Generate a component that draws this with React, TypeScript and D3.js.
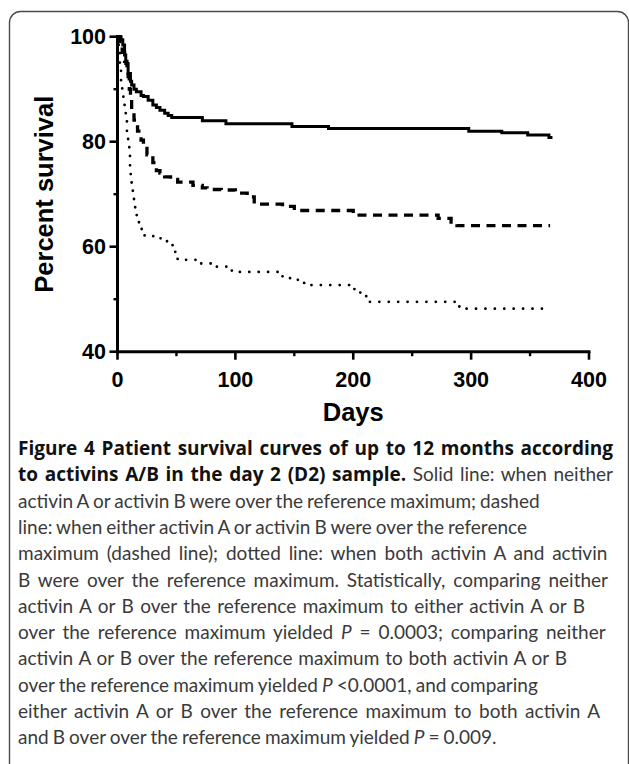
import { useEffect, useRef, useState } from "react"
import * as d3 from "d3"

// survival curves: [day, percent]
const neitherCurve: [number, number][] = [
  [0, 100], [3, 99.4], [4.5, 98.4], [6, 96.5], [7, 94.9], [9, 93], [11, 91.5], [12, 90.8],
  [14, 90], [16, 89.5], [20, 88.8], [22, 88.6], [26, 87.9], [30, 87.0], [33, 86.5], [36, 86.0],
  [40, 85.4], [43, 85], [46, 84.6], [72, 84.0], [92, 83.4], [148, 82.9], [179, 82.5],
  [298, 82.0], [326, 81.7], [348, 81.3], [366, 80.8], [369, 80.8],
]

const eitherCurve: [number, number][] = [
  [0, 100], [2, 98], [4, 97], [6, 95.3], [8, 93.5], [9, 92.4], [10, 90], [11, 88], [12, 86],
  [14, 84.1], [17, 82], [20, 80.3], [22, 79.4], [25, 77.5], [30, 76], [33, 74.5], [36, 74],
  [40, 73.3], [45, 72.8], [51, 72.3], [64, 71.7], [72, 71.2], [76, 70.9], [88, 70.8],
  [100, 70.2], [110, 69.5], [116, 68.1], [140, 67.7], [150, 66.9], [200, 66.0], [272, 65.4],
  [283, 64.7], [288, 64.0], [367, 64.0],
]

const bothCurve: [number, number][] = [
  [0, 100], [1, 97], [2, 94], [3, 91.7], [4, 89.8], [5, 88], [6, 86], [7, 84], [8, 82], [9, 80],
  [10, 77.5], [10.6, 75.5], [11.2, 73.7], [12, 72.1], [13, 70.5], [14, 68.9], [15, 67.3],
  [16.3, 65.7], [18.2, 64.5], [20.5, 63.2], [23, 62.0], [34, 61.6], [38, 61.3], [42, 61.0],
  [46, 60.3], [47.5, 59.7], [49, 58.5], [51, 57.5], [71, 56.8], [79, 56.2], [97, 55.2],
  [140, 54.0], [147, 53.7], [153, 53.1], [159, 52.7], [197, 52.2], [201, 51.7], [206, 51.0],
  [211, 50.5], [214, 49.5], [290, 48.2], [363, 48.2],
]

const xMajorTicks = [0, 100, 200, 300, 400]
const xMinorTicks = [50, 150, 250, 350]
const yMajorTicks = [40, 60, 80, 100]
const yMinorTicks = [50, 70, 90]

const xTitle = "Days"
const yTitle = "Percent survival"

type Seg = { t: string; b?: boolean; i?: boolean }
const captionLines: Seg[][] = [
  [{ t: "Figure 4 Patient survival curves of up to 12 months according", b: true }],
  [{ t: "to activins A/B in the day 2 (D2) sample.", b: true }, { t: " Solid line: when neither" }],
  [{ t: "activin A or activin B were over the reference maximum; dashed" }],
  [{ t: "line: when either activin A or activin B were over the reference" }],
  [{ t: "maximum (dashed line); dotted line: when both activin A and activin" }],
  [{ t: "B were over the reference maximum. Statistically, comparing neither" }],
  [{ t: "activin A or B over the reference maximum to either activin A or B" }],
  [{ t: "over the reference maximum yielded " }, { t: "P", i: true }, { t: " = 0.0003; comparing neither" }],
  [{ t: "activin A or B over the reference maximum to both activin A or B" }],
  [{ t: "over the reference maximum yielded " }, { t: "P", i: true }, { t: " <0.0001, and comparing" }],
  [{ t: "either activin A or B over the reference maximum to both activin A" }],
  [{ t: "and B over over the reference maximum yielded " }, { t: "P", i: true }, { t: " = 0.009." }],
]
// right end of each caption line in the figure
const captionLineEnds = [613, 613, 515, 490, 613, 613, 585, 613, 567, 530, 600, 473]

const W = 629
const H = 764
const tickFont = "'Liberation Sans', Arial, sans-serif"
const captionFont = "Lato, 'Open Sans', sans-serif"
const boldFont = "'Open Sans', Lato, sans-serif"

export default function App() {
  const textRefs = useRef<(SVGTextElement | null)[]>([])
  const [wordSpacing, setWordSpacing] = useState<number[] | null>(null)

  useEffect(() => {
    document.body.style.margin = "0"
    // nudge each caption line toward its width in the figure via its spaces (kept small)
    document.fonts.ready.then(() => {
      const ws = captionLines.map((segs, i) => {
        const el = textRefs.current[i]
        if (!el) return 0
        const natural = el.getComputedTextLength()
        const spaces = segs.map((s) => s.t).join("").split(" ").length - 1
        const v = spaces > 0 ? (captionLineEnds[i] - 18 - natural) / spaces : 0
        return Math.max(-0.8, Math.min(3, v))
      })
      setWordSpacing(ws)
    })
  }, [])

  const x = d3.scaleLinear().domain([0, 400]).range([117.5, 589])
  const y = d3.scaleLinear().domain([40, 100]).range([351.7, 36.7])

  const line = d3
    .line<[number, number]>()
    .x((d) => x(d[0]))
    .y((d) => y(d[1]))
    .curve(d3.curveStepAfter)

  const x0 = x.range()[0]
  const y0 = y.range()[0]
  const capX = 18

  return (
    <svg width={W} height={H} style={{ position: "absolute", left: 0, top: 0, background: "#fff" }}>
      {/* frame round the figure */}
      <rect x={9.5} y={11.5} width={619} height={790} rx={11} fill="none" stroke="#4a4a4a" strokeWidth={1.4} />

      {/* curves */}
      <path d={line(neitherCurve) ?? ""} fill="none" stroke="#000" strokeWidth={3} />
      <path d={line(eitherCurve) ?? ""} fill="none" stroke="#000" strokeWidth={3.3} strokeDasharray="9,6.5" />
      <path
        d={line(bothCurve) ?? ""}
        fill="none"
        stroke="#000"
        strokeWidth={2.8}
        strokeLinecap="round"
        strokeDasharray="0.01,9.4"
      />

      {/* axes */}
      <line x1={x0} x2={x0} y1={y.range()[1]} y2={y0} stroke="#000" strokeWidth={3} strokeLinecap="square" />
      <line x1={x0} x2={x.range()[1]} y1={y0} y2={y0} stroke="#000" strokeWidth={3} strokeLinecap="square" />
      {yMajorTicks.map((d) => (
        <line key={"ym" + d} x1={x0 - 8} x2={x0} y1={y(d)} y2={y(d)} stroke="#000" strokeWidth={2.6} />
      ))}
      {yMinorTicks.map((d) => (
        <line key={"yn" + d} x1={x0 - 4} x2={x0} y1={y(d)} y2={y(d)} stroke="#000" strokeWidth={2.4} />
      ))}
      {xMajorTicks.map((d) => (
        <line key={"xm" + d} x1={x(d)} x2={x(d)} y1={y0} y2={y0 + 8} stroke="#000" strokeWidth={2.6} />
      ))}
      {xMinorTicks.map((d) => (
        <line key={"xn" + d} x1={x(d)} x2={x(d)} y1={y0} y2={y0 + 4.5} stroke="#000" strokeWidth={2.4} />
      ))}
      {yMajorTicks.map((d) => (
        <text
          key={"yl" + d}
          x={106}
          y={y(d)}
          dy="0.36em"
          textAnchor="end"
          fontFamily={tickFont}
          fontWeight="bold"
          fontSize={21.5}
        >
          {d}
        </text>
      ))}
      {xMajorTicks.map((d) => (
        <text
          key={"xl" + d}
          x={x(d)}
          y={387}
          textAnchor="middle"
          fontFamily={tickFont}
          fontWeight="bold"
          fontSize={21.5}
        >
          {d}
        </text>
      ))}
      <text
        x={(x.range()[0] + x.range()[1]) / 2}
        y={421}
        textAnchor="middle"
        fontFamily={tickFont}
        fontWeight="bold"
        fontSize={25.5}
      >
        {xTitle}
      </text>
      <text
        transform={`translate(53, ${(y.range()[0] + y.range()[1]) / 2}) rotate(-90)`}
        textAnchor="middle"
        fontFamily={tickFont}
        fontWeight="bold"
        fontSize={25.5}
      >
        {yTitle}
      </text>

      {/* caption */}
      {captionLines.map((segs, i) => (
        <text
          key={i}
          ref={(el) => {
            textRefs.current[i] = el
          }}
          x={capX}
          y={455 + i * 26.3}
          fontFamily={captionFont}
          fontSize={19}
          fill="#3a3a3a"
          style={{ wordSpacing: wordSpacing ? `${wordSpacing[i]}px` : "0px" }}
        >
          {segs.map((s, j) => (
            <tspan
              key={j}
              fontFamily={s.b ? boldFont : captionFont}
              fontWeight={s.b ? "bold" : "normal"}
              fontStyle={s.i ? "italic" : "normal"}
              fontSize={s.b ? 19 : 19}
              fill={s.b ? "#111" : "#3a3a3a"}
            >
              {s.t}
            </tspan>
          ))}
        </text>
      ))}
    </svg>
  )
}
